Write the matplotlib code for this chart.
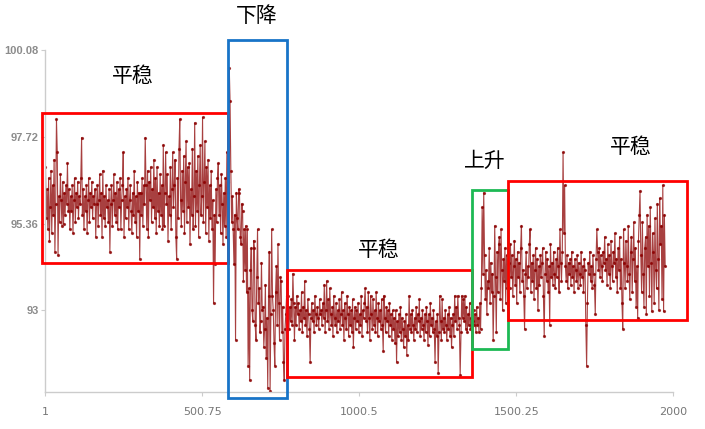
import numpy as np
import matplotlib
matplotlib.use('Agg')
import matplotlib.pyplot as plt
from matplotlib.patches import Rectangle

plt.rcParams['font.family'] = ['Noto Sans CJK SC', 'DejaVu Sans']

# valores (um ponto a cada 2.5 amostras)
seg_plano1 = [96.9, 95.5, 96.3, 95.2, 96.6, 94.9, 95.8, 96.8, 95.1, 96.4, 95.6, 97.1, 94.6, 95.9, 98.2, 97.3, 94.5, 96.1, 95.4, 96.7,
              96.0, 95.3, 96.5, 95.35, 96.2, 95.6, 96.4, 95.9, 97.0, 95.7, 96.3, 95.2, 96.1, 95.7, 96.4, 95.1, 96.0, 96.6, 95.4, 96.2,
              95.8, 96.5, 95.5, 96.1, 95.9, 96.6, 97.7, 95.6, 96.3, 95.2, 96.1, 95.7, 96.4, 95.1, 96.0, 96.6, 95.4, 96.2, 95.8, 96.5,
              95.5, 96.1, 95.9, 96.3, 95.0, 95.9, 96.4, 95.3, 96.0, 96.7, 95.6, 96.2, 95.0, 96.8, 95.5, 96.1, 95.3, 96.4, 95.8, 96.0,
              95.4, 96.3, 94.6, 95.9, 96.4, 95.3, 96.0, 96.7, 95.6, 96.2, 95.4, 96.5, 95.2, 96.3, 95.8, 96.6, 95.2, 96.0, 96.4, 97.3,
              95.0, 96.1, 95.5, 96.3, 95.8, 96.6, 95.2, 96.0, 96.4, 95.7, 95.1, 96.2, 95.6, 96.8, 95.4, 96.1, 95.0, 96.5, 95.7, 96.2,
              94.4, 96.2, 95.6, 96.6, 95.3, 96.4, 95.9, 97.7, 96.4, 95.2, 96.8, 95.0, 96.5, 96.0, 96.9, 95.4, 96.3, 95.8, 97.1, 95.5,
              96.6, 95.1, 96.9, 95.7, 96.2, 95.3, 96.7, 95.6, 96.4, 95.2, 97.5, 95.3, 96.2, 97.3, 95.9, 96.7, 94.9, 96.1, 95.6, 96.9,
              95.2, 96.3, 97.3, 95.8, 96.4, 97.1, 95.0, 94.4, 96.6, 95.5, 97.4, 98.2, 96.0, 95.3, 96.8, 95.7, 97.2, 95.1, 96.5, 97.6,
              95.4, 96.9, 95.8, 97.0, 94.8, 96.3, 95.6, 97.4, 95.2, 96.1, 98.1, 95.3, 96.8, 95.7, 97.2, 95.0, 96.4, 97.5, 95.6, 96.1,
              98.25, 95.4, 96.5, 97.6, 95.1, 96.9, 95.8, 97.1, 94.9, 96.4, 95.5, 96.8, 95.2, 96.0, 93.2, 95.6, 94.25, 96.3, 95.4, 96.6,
              97.0, 95.6, 96.4, 95.1, 96.7, 95.9, 94.8, 96.2, 95.3, 96.6, 95.0, 97.3, 96.2]
seg_queda = [96.5, 99.6, 98.7, 96.8, 95.4, 96.1, 95.2, 94.25, 95.6, 92.2, 96.2, 95.5, 95.2, 96.3, 96.2, 95.0, 94.8, 95.9, 95.7, 93.8,
             95.2, 94.1, 95.3, 93.5, 95.2, 91.5, 93.6, 91.1, 94.1, 94.7, 93.0, 92.7, 94.9, 94.7, 92.6, 92.2, 93.9, 95.2, 93.2, 93.6,
             92.4, 92.7, 94.3, 93.0, 93.1, 92.0, 92.5, 93.7, 91.7, 92.8, 90.9, 93.4, 94.6, 90.8, 92.9, 95.2, 93.4, 93.0, 92.1, 91.5,
             93.5, 94.2, 92.6, 94.8, 93.2, 92.2, 93.9, 93.8, 92.4, 93.1, 91.6, 91.1, 92.5, 92.9, 93.4]
seg_plano2 = [92.9, 93.4, 92.5, 93.1, 92.7, 93.3, 92.6, 94.0, 93.2, 92.2, 93.1, 92.6, 93.4, 92.9, 93.2, 92.5, 93.0, 92.7, 93.5, 92.4,
              93.1, 92.8, 93.8, 92.6, 93.0, 92.3, 93.3, 92.9, 92.5, 91.6, 92.8, 93.2, 92.7, 93.0, 92.4, 93.4, 92.9, 92.6, 93.1, 92.8,
              92.5, 93.3, 92.9, 93.0, 92.6, 93.2, 92.8, 93.7, 92.4, 93.0, 93.8, 92.7, 93.3, 92.5, 93.6, 92.9, 92.6, 93.1, 92.3, 93.4,
              92.8, 92.6, 93.2, 92.4, 93.0, 92.7, 93.3, 92.5, 92.9, 93.5, 92.6, 93.0, 92.2, 93.2, 92.8, 92.5, 93.4, 92.9, 92.3, 93.1,
              92.6, 93.0, 92.4, 93.3, 92.0, 92.8, 93.1, 92.5, 93.0, 92.7, 93.2, 92.4, 92.9, 92.6, 93.4, 92.3, 93.0, 92.8, 93.2, 93.6,
              92.7, 93.1, 92.4, 93.5, 92.8, 92.2, 93.4, 92.9, 92.5, 93.3, 92.6, 93.0, 92.4, 93.5, 92.8, 92.3, 93.2, 92.7, 93.0, 92.5,
              93.3, 92.6, 91.9, 93.4, 92.8, 92.4, 93.1, 92.7, 93.0, 92.3, 93.2, 92.6, 92.9, 92.2, 93.0, 92.5, 92.8, 92.1, 93.0, 91.6,
              92.7, 92.3, 92.9, 92.4, 93.1, 92.2, 92.8, 92.5, 92.0, 92.7, 92.3, 92.9, 91.8, 92.6, 92.2, 93.4, 92.5, 92.9, 92.4, 93.0,
              92.6, 92.2, 92.8, 92.5, 93.1, 92.4, 92.9, 92.7, 93.3, 92.3, 92.8, 92.5, 93.0, 92.6, 92.2, 92.9, 92.4, 93.1, 92.7, 92.07,
              92.9, 92.3, 93.2, 92.6, 92.8, 92.4, 93.0, 92.5, 91.6, 92.7, 92.3, 92.9, 91.3, 92.4, 93.4, 92.7, 92.2, 93.3, 92.5, 92.8,
              92.4, 93.0, 92.6, 92.2, 92.9, 92.5, 93.1, 92.3, 92.8, 92.0, 92.6, 92.9, 92.3, 93.4, 92.7, 93.1, 92.5, 93.4, 92.8, 92.6,
              91.25, 92.4, 93.4, 92.8, 93.3, 92.7, 93.4, 92.5, 93.1, 92.4, 92.9, 92.6, 93.2, 92.5, 92.8, 92.6]
seg_subida = [92.7, 93.0, 92.6, 92.9, 92.4, 93.1, 92.6, 92.8, 92.4, 93.2, 92.5, 93.6, 95.8, 94.0, 96.2, 94.5, 93.3, 94.1, 92.9, 93.8,
              93.6, 94.7, 93.2, 94.3, 93.5, 94.0, 92.2, 93.4, 95.3, 93.9, 92.4, 94.6, 93.5, 94.8, 95.0, 93.3, 95.2, 94.1, 93.0, 94.4,
              93.8, 94.7, 93.2, 94.5, 93.6, 94.25]
seg_plano3 = [94.3, 93.6, 94.8, 93.9, 94.5, 93.4, 94.2, 94.9, 93.7, 94.4, 93.2, 94.6, 93.9, 94.3, 93.5, 94.7, 95.3, 93.8, 94.1, 93.4,
              92.5, 94.0, 94.6, 93.6, 94.2, 93.9, 94.8, 95.2, 93.5, 94.3, 93.8, 94.5, 93.3, 94.1, 94.7, 93.6, 94.4, 93.0, 94.2, 93.7,
              94.5, 93.9, 94.3, 94.7, 93.4, 92.3, 94.0, 94.6, 93.8, 94.4, 93.5, 94.2, 92.6, 94.8, 93.9, 94.3, 93.7, 94.6, 94.0, 93.6,
              94.4, 93.9, 94.7, 94.2, 93.5, 95.2, 94.3, 93.8, 94.6, 97.3, 95.1, 96.4, 94.2, 93.8, 94.5, 93.6, 94.3, 94.0, 94.4, 93.7,
              94.6, 93.9, 94.2, 93.5, 94.4, 94.1, 93.8, 94.5, 93.6, 94.3, 94.0, 93.7, 94.6, 93.9, 94.2, 93.5, 94.4, 94.1, 92.6, 91.5,
              93.2, 94.3, 94.0, 94.6, 93.8, 94.2, 93.6, 94.5, 94.0, 93.7, 92.9, 94.4, 95.2, 94.6, 94.1, 94.7, 93.9, 94.5, 94.2, 93.8,
              94.6, 94.3, 95.0, 94.1, 94.4, 93.7, 94.8, 94.0, 94.5, 93.6, 94.9, 94.2, 93.8, 94.6, 94.3, 95.1, 93.9, 94.4, 93.5, 94.7,
              94.1, 95.0, 93.6, 94.4, 93.2, 92.5, 95.2, 94.3, 93.6, 94.9, 94.2, 93.8, 95.3, 94.0, 93.3, 94.6, 95.0, 93.5, 94.4, 95.4,
              93.8, 94.7, 93.1, 94.2, 92.8, 94.9, 95.6, 96.25, 94.5, 93.5, 95.4, 94.0, 93.1, 94.7, 95.0, 92.9, 95.6, 94.2, 95.3, 93.4,
              95.8, 94.3, 92.97, 95.1, 94.6, 93.2, 95.5, 94.1, 93.6, 95.9, 94.4, 93.0, 96.05, 94.8, 95.3, 93.3, 96.4, 92.97, 95.6, 94.2]

valores = seg_plano1 + seg_queda + seg_plano2 + seg_subida + seg_plano3
passo = 2.5
indice = 1 + passo * np.arange(len(valores))

yticks = [93, 95.36, 97.72, 100.08]
xticks = [1, 500.75, 1000.5, 1500.25, 2000]

# caixas: (x0, x1, y0, y1, cor)
caixas = [(-10, 582, 94.30, 98.38, '#ff0000'),
          (582, 770, 90.62, 100.34, '#1874c8'),
          (770, 1359, 91.20, 94.11, '#ff0000'),
          (1359, 1474, 91.96, 96.26, '#1db954'),
          (1474, 2044, 92.75, 96.53, '#ff0000')]

rotulos = [('平稳', 279, 99.36), ('下降', 674, 101.0), ('平稳', 1063, 94.65),
           ('上升', 1400, 97.07), ('平稳', 1865, 97.43)]

fig = plt.figure(figsize=(7.05, 4.29), dpi=100)
ax = fig.add_axes([0.0645, 0.0862, 0.8908, 0.7972])

ax.plot(indice, valores, color='#8b0000', lw=0.8, alpha=0.75,
        marker='o', ms=1.3, mec='#8b0000', mfc='#8b0000')

ax.set_xlim(1, 2000)
ax.set_ylim(90.78, 100.08)

for x0, x1, y0, y1, cor in caixas:
    ax.add_patch(Rectangle((x0, y0), x1 - x0, y1 - y0, fill=False,
                           edgecolor=cor, lw=2, clip_on=False, zorder=5))

for txt, x, y in rotulos:
    ax.text(x, y, txt, ha='center', va='center', fontsize=15, color='black')

ax.set_yticks(yticks)
ax.set_yticklabels(['93', '95.36', '97.72', '100.08'], fontsize=8,
                   fontweight='bold', color='#8c8c8c',
                   family=['Liberation Sans', 'DejaVu Sans'])
ax.set_xticks(xticks)
ax.set_xticklabels(['1', '500.75', '1000.5', '1500.25', '2000'], fontsize=8,
                   color='#777777', family=['Liberation Sans Narrow', 'DejaVu Sans'])
ax.tick_params(axis='x', length=3, color='#cccccc', pad=8)
ax.tick_params(axis='y', length=3, color='#cccccc', pad=2)

for lado in ['top', 'right']:
    ax.spines[lado].set_visible(False)
for lado in ['left', 'bottom']:
    ax.spines[lado].set_color('#cccccc')
    ax.spines[lado].set_linewidth(1)

fig.savefig('out.png', dpi=100, facecolor='w')
